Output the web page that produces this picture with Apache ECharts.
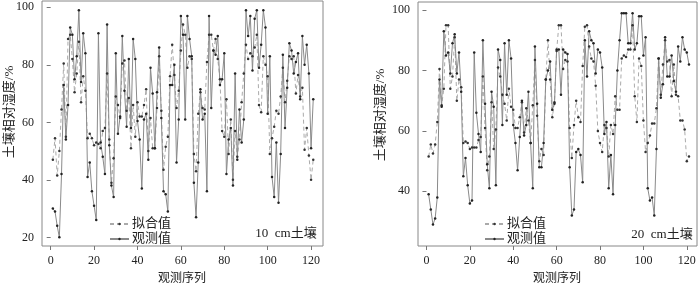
<!DOCTYPE html>
<html>
<head>
<meta charset="utf-8">
<script src="https://cdn.jsdelivr.net/npm/echarts@6/dist/echarts.min.js"></script>
<style>
  html, body { margin: 0; padding: 0; background: #fff; }
  #chart { width: 700px; height: 285px; }
</style>
</head>
<body>
<div id="chart"></div>
<script>
// observation index 1..121
const obs10 = [30, 29, 24, 20, 42, 73, 54, 66, 93, 90.5, 75, 83, 99, 74, 91, 84, 41, 46, 36, 31,
  26, 91, 53, 48, 42, 94, 52, 38, 34, 84, 56, 62, 90, 71, 58.5, 82, 58, 89, 82, 60.5,
  54, 37, 61, 63, 47, 79, 70, 51, 70.5, 86, 61.5, 36, 35, 29, 73, 73, 80, 46, 61, 97,
  90.5, 61, 97, 89, 83, 39, 27, 46, 71.5, 61, 63, 36, 97, 65, 85, 83.5, 90, 73, 75, 84,
  42, 54, 58, 38, 77, 47, 64.5, 53, 61, 99, 90, 97, 78, 96, 99, 79, 87, 99, 93, 63,
  83, 41, 34, 53, 32, 49, 83.5, 58, 72, 87.5, 85, 77, 81, 84, 68, 90, 80, 87, 77, 51, 68];
const fit10 = [47, 54.5, 41.5, 50, 64.5, 80.5, 55, 89, 90.5, 82, 70.5, 77, 88, 67, 76, 71, 54.5, 56, 54.5, 52,
  53, 52.5, 51, 57, 58, 77, 54, 39, 47.5, 69, 66, 61.5, 80.5, 81.5, 64, 68.5, 51, 66, 55, 67,
  62, 62, 66, 71.5, 50, 61.5, 51, 51, 65, 83, 64, 43.5, 51.5, 55, 76, 87, 76.5, 65, 71, 85,
  94, 90.5, 79, 83, 82, 49, 43, 63, 70.5, 65, 64.5, 81, 90.5, 90.5, 85, 89, 82, 75, 57, 55,
  68, 49, 61, 40, 57, 48, 54, 67, 77, 87, 82, 84, 83, 86, 90.5, 66, 63.5, 83, 80, 76,
  49, 54.5, 58.5, 64, 63, 69, 79, 67, 74.5, 83, 82, 83, 70, 76.5, 69, 72, 50.5, 58, 48.5, 40, 47];

const obs20 = [39, 34, 29, 31, 38, 77, 68, 93, 85, 86, 79, 89, 92, 79, 86, 73, 45, 51, 42, 36,
  37, 86, 66, 59, 53, 90, 69, 49, 41, 73, 68, 42, 87, 83.5, 62, 89, 72, 90, 84, 62,
  56, 47, 58, 70, 58.5, 62, 73, 56, 41, 88, 69, 48, 48, 56, 77, 80, 83, 67, 69, 87,
  87, 72, 87, 86, 85.5, 48, 32, 34, 53, 54, 52, 43, 90, 78, 93, 90, 89, 79, 87, 86,
  81, 59, 63, 41, 52, 39, 62, 80, 90, 99, 99, 99, 89, 89, 99, 87, 89, 98, 98, 85,
  91, 41, 37, 38, 32, 54, 84, 71, 75.5, 91, 78, 78, 85, 76.5, 73, 88, 83, 91, 87, 86, 82];
const fit20 = [51.5, 55.5, 52.5, 55.5, 63, 80.5, 68.5, 74, 95, 95, 74, 78, 91, 70, 77, 74.5, 56, 56.5, 56, 54,
  54.5, 54.5, 54.5, 57, 58, 78, 61, 47, 51.5, 69.5, 54, 60.5, 81, 78, 72, 69, 63.5, 74, 68, 67,
  61, 61, 64.5, 69.5, 59.5, 67.5, 63.5, 56, 68.5, 83.5, 65, 50, 54, 52, 77, 90, 77, 64.5, 69.5, 86.5,
  95, 95, 80.5, 83.5, 83, 61, 51, 62, 70, 64.5, 63, 81.5, 94.5, 95, 88, 84, 83, 75, 60, 56,
  53, 62, 61, 51.5, 62, 59, 71.5, 67, 67, 84, 85, 84.5, 87, 87, 95, 71.5, 63, 84, 81.5, 63.5,
  53, 56, 58.5, 62.5, 62.5, 67.5, 84, 72, 82, 90, 83, 83.5, 71.5, 82, 72, 71.5, 63.5, 63.5, 60.5, 50, 51.5];

const xTicks = [0, 20, 40, 60, 80, 100, 120];
const yTicks10 = [20, 40, 60, 80, 100];
const yTicks20 = [40, 60, 80, 100];

const FONT = '"Liberation Serif", "Noto Sans CJK SC", serif';
const TEXT = '#222';

const toPairs = (arr) => arr.map((v, i) => [i + 1, v]);

function xAxisFor(gridIndex, min, max) {
  return {
    type: 'value',
    gridIndex,
    min,
    max,
    axisLine: { show: false },
    axisTick: { show: true, customValues: xTicks, length: 4, lineStyle: { color: '#777' } },
    axisLabel: { customValues: xTicks, color: TEXT, fontFamily: FONT, fontSize: 12, margin: 9 },
    splitLine: { show: false },
  };
}

function yAxisFor(gridIndex, min, max, ticks) {
  return {
    type: 'value',
    gridIndex,
    min,
    max,
    axisLine: { show: false },
    axisTick: { show: true, customValues: ticks, length: 4, lineStyle: { color: '#777' } },
    axisLabel: { customValues: ticks, color: TEXT, fontFamily: FONT, fontSize: 12, margin: 8 },
    splitLine: { show: false },
  };
}

function fitSeries(idx, data) {
  return {
    name: '拟合值',
    type: 'line',
    xAxisIndex: idx,
    yAxisIndex: idx,
    data: toPairs(data),
    symbol: 'circle',
    symbolSize: 2.5,
    showSymbol: true,
    lineStyle: { color: '#aaa', width: 1, type: [4, 3] },
    itemStyle: { color: '#333' },
    animation: false,
  };
}

function obsSeries(idx, data) {
  return {
    name: '观测值',
    type: 'line',
    xAxisIndex: idx,
    yAxisIndex: idx,
    data: toPairs(data),
    symbol: 'circle',
    symbolSize: 2.5,
    showSymbol: true,
    lineStyle: { color: '#8a8a8a', width: 1 },
    itemStyle: { color: '#222' },
    animation: false,
  };
}

function legendFor(left) {
  return {
    orient: 'vertical',
    left,
    top: 212,
    itemWidth: 19,
    itemHeight: 3,
    itemGap: 1,
    data: ['拟合值', '观测值'],
    textStyle: { color: TEXT, fontFamily: FONT, fontSize: 13, lineHeight: 14, padding: [0, 0, 0, -2] },
  };
}

function label(text, x, y, rotate, size) {
  return {
    type: 'text',
    x,
    y,
    rotation: rotate ? Math.PI / 2 : 0,
    style: {
      text,
      fill: TEXT,
      font: (size || 12) + 'px ' + FONT,
      textAlign: 'center',
      textVerticalAlign: 'middle',
    },
  };
}

const chart = echarts.init(document.getElementById('chart'), null, { renderer: 'canvas' });
chart.setOption({
  animation: false,
  grid: [
    { left: 42, right: 377, top: 1, bottom: 39, show: true, borderColor: '#888', borderWidth: 1 },
    { left: 418, right: 3, top: 2, bottom: 39, show: true, borderColor: '#888', borderWidth: 1 },
  ],
  xAxis: [xAxisFor(0, -4.0, 125.5), xAxisFor(1, -3.9, 124.7)],
  yAxis: [yAxisFor(0, 17.0, 102.2, yTicks10), yAxisFor(1, 21.9, 102.7, yTicks20)],
  legend: [legendFor(104), legendFor(479)],
  series: [
    fitSeries(0, fit10),
    obsSeries(0, obs10),
    fitSeries(1, fit20),
    obsSeries(1, obs20),
  ],
  graphic: [
    label('土壤相对湿度/%', 10, 112, true, 13),
    label('土壤相对湿度/%', 381, 115, true, 13),
    label('观测序列', 182, 279, false, 12),
    label('观测序列', 557, 279, false, 12),
    label('10  cm土壤', 286, 234, false, 13),
    label('20  cm土壤', 662, 235, false, 13),
  ],
});
</script>
</body>
</html>
